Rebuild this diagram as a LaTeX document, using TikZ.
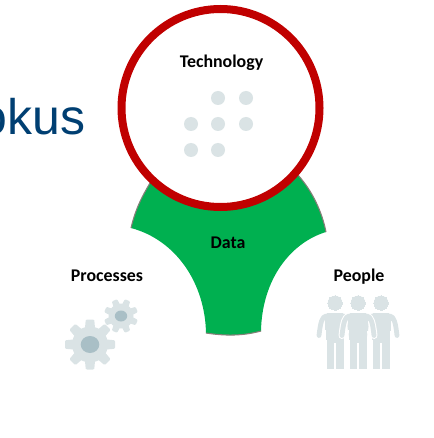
\documentclass[tikz,border=0pt]{standalone}
\usepackage{fontspec}
\setmainfont{Carlito}
\newfontfamily\titlefont{Liberation Sans}
\definecolor{ringred}{HTML}{C00000}
\definecolor{datagreen}{HTML}{00B050}
\definecolor{icongrey}{HTML}{DAE3E5}
\definecolor{hubgrey}{HTML}{A9BFC6}
\definecolor{titleblue}{HTML}{003F72}
\definecolor{edgegrey}{HTML}{857F78}
\newcommand{\gearicon}[5]{% cx, cy, outer r, body r, rotation offset
  \fill[icongrey] (#1,#2) circle[radius=#4];
  \foreach \a in {0,45,...,315}{
    \fill[icongrey,rotate around={\a+#5:(#1,#2)},rounded corners=0.8pt]
      (#1-0.26*#3,#2) -- (#1-0.17*#3,#2-#3) -- (#1+0.17*#3,#2-#3) -- (#1+0.26*#3,#2) -- cycle;
  }
}
\newcommand{\personshape}[3]{% cx, colour, outline width
  \path[fill=#2,draw=#2,line width=#3pt] (#1,303) circle[radius=7.2];
  \path[fill=#2,draw=#2,line width=#3pt] (#1-8,340) -- (#1-10,320)
    .. controls (#1-10.5,315) and (#1-9,313) .. (#1-5,313) -- (#1+5,313)
    .. controls (#1+9,313) and (#1+10.5,315) .. (#1+10,320) -- (#1+8,340)
    -- (#1+8,368) -- (#1+1.1,368) -- (#1+1.1,342) -- (#1-1.1,342) -- (#1-1.1,368) -- (#1-8,368) -- cycle;
  \draw[#2,line width=\dimexpr 3.6pt+#3pt\relax,line cap=round,line join=round]
    (#1-9,316) .. controls (#1-13,317) and (#1-14.5,322) .. (#1-16,335.5);
  \draw[#2,line width=\dimexpr 3.6pt+#3pt\relax,line cap=round,line join=round]
    (#1+9,316) .. controls (#1+13,317) and (#1+14.5,322) .. (#1+16,335.5);
}
\begin{document}
\begin{tikzpicture}[x=0.75pt,y=-0.75pt,
  label text/.style={font=\bfseries\fontsize{13.4}{15}\selectfont,text=black,inner sep=0pt,anchor=base},
  dot/.style={circle,fill=icongrey,minimum size=10.5pt,inner sep=0pt}]
\useasboundingbox (0,0) rectangle (434,438);
% green Data shape
\fill[datagreen] (131,228) .. controls (136,207) and (143,195) .. (150,183)
  -- (298,175) .. controls (313,192) and (322,212) .. (326,232)
  .. controls (290,243) and (262,280) .. (261,331)
  .. controls (243,336) and (225,336) .. (206,333)
  .. controls (205,283) and (176,240) .. (131,228) -- cycle;
\draw[edgegrey,line width=0.8pt] (131,228) .. controls (136,207) and (143,195) .. (150,183);
\draw[edgegrey,line width=0.8pt] (298,175) .. controls (313,192) and (322,212) .. (326,232);
\draw[edgegrey,line width=0.8pt] (261,331) .. controls (243,336) and (225,336) .. (206,333);
% red ring
\node[circle,draw=ringred,fill=white,line width=6pt,minimum size=148.5pt,inner sep=0pt] (ring) at (220.5,108) {};
% title
\node[font=\titlefont\fontsize{37.5}{40}\selectfont,text=titleblue,inner sep=0pt,anchor=base east] (title) at (85.5,135) {okus};
% labels
\node[label text] (tech) at (221.5,68) {Technology};
\node[label text] (data) at (228,248.5) {Data};
\node[label text] (proc) at (107,281.5) {Processes};
\node[label text] (people) at (359,281.5) {People};
% dots
\node[dot] (d1) at (218,98) {};
\node[dot] (d2) at (246,98) {};
\node[dot] (d3) at (191,124) {};
\node[dot] (d4) at (218,124) {};
\node[dot] (d5) at (246,124) {};
\node[dot] (d6) at (191,150) {};
\node[dot] (d7) at (218,150) {};
% gears
\gearicon{90}{344.5}{25}{18}{0}
\fill[hubgrey] (90,344.5) ellipse[x radius=9.3,y radius=8.5];
\gearicon{121}{316}{17}{12.5}{22.5}
\fill[hubgrey] (121,316) ellipse[x radius=6.2,y radius=5.5];
% people
\personshape{335}{icongrey}{0}
\personshape{381}{icongrey}{0}
\personshape{358}{white}{1.6}
\personshape{358}{icongrey}{0}
\end{tikzpicture}
\end{document}
